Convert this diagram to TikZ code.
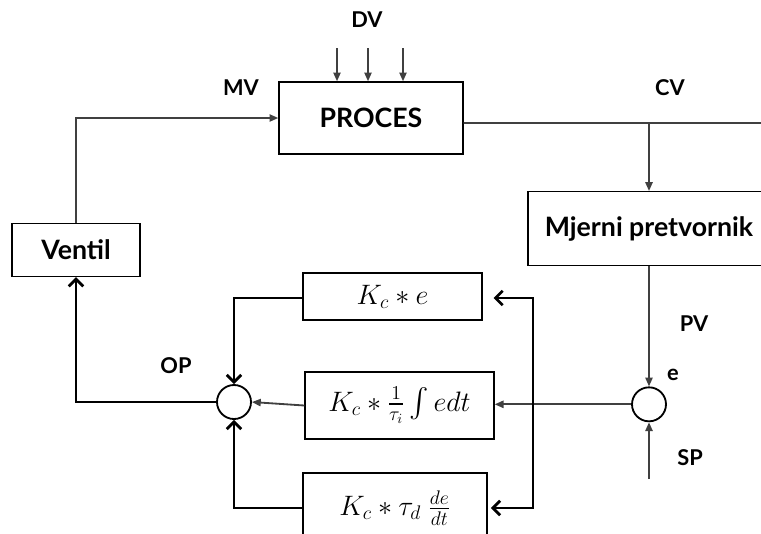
\documentclass[tikz,border=0pt]{standalone}
\usepackage{fix-cm}
\usepackage{exscale}
\usepackage[no-math]{fontspec}
\setmainfont{Lato}
\usetikzlibrary{positioning,arrows.meta,calc}

\begin{document}
\begin{tikzpicture}[
    block/.style={draw, line width=1pt, rectangle, align=center, inner sep=0pt, font=\fontsize{19}{22}\selectfont\bfseries},
    term/.style={draw, line width=1pt, rectangle, align=center, inner sep=0pt, font=\fontsize{20}{23}\selectfont},
    summer/.style={draw, circle, line width=1.3pt, minimum size=0.85cm, inner sep=0pt, fill=white},
    sig/.style={font=\fontsize{15.5}{18}\selectfont\bfseries},
    sigline/.style={draw=black!75, line width=1.3pt, -{Triangle[length=2.2mm,width=1.8mm]}},
    thickline/.style={line width=2pt, -{Straight Barb[length=1.8mm,width=3.6mm]}}
]
\useasboundingbox (0,0) rectangle (19.025,-13.325);

% process loop
\node[block, minimum width=4.6cm, minimum height=1.8cm] (proc) at (9.275,-2.95) {PROCES};
\node[block, minimum width=3.2cm, minimum height=1.325cm] (ventil) at (1.9,-6.25) {Ventil};
\coordinate (cvsplit) at (16.225,-3.075);
\coordinate (cvend) at (19.3,-3.075);
\node[block, below=1.7cm of cvsplit, minimum width=6.05cm, minimum height=1.85cm] (mjerni) {Mjerni pretvornik};
\node[summer, below=3cm of mjerni] (err) {};
\coordinate[below=1.425cm of err] (spin);

% controller terms
\node[summer] (out) at (5.85,-10.05) {};
\node[term, minimum width=4.475cm, minimum height=1.175cm] (pterm) at (9.8125,-7.4125) {$K_c * e$};
\node[term, minimum width=4.725cm, minimum height=1.675cm] (iterm) at (9.9875,-10.1375) {$K_c * \frac{1}{\tau_i}\,{\textstyle\int}\, e dt$};
\node[term, minimum width=4.6cm, minimum height=1.75cm] (dterm) at (9.875,-12.7) {$K_c * \tau_d\ \frac{de}{dt}$};
\coordinate (split) at (13.325,-10.05);

% signal names
\node[sig] (dv) at (9.175,-0.5) {DV};
\node[sig] (mv) at (6.025,-2.2) {MV};
\node[sig] (cv) at (16.75,-2.2) {CV};
\node[sig] (pv) at (17.35,-8.1) {PV};
\node[sig] (e) at (16.825,-9.375) {e};
\node[sig] (sp) at (17.25,-11.45) {SP};
\node[sig] (op) at (4.4,-9.15) {OP};

\foreach \x in {8.425,9.2,10.075}
    \draw[sigline] (\x,-1.2) -- (\x,0 |- proc.north);
\draw[sigline] (ventil.north) |- (proc.west);
\draw[draw=black!75, line width=1.3pt] ([yshift=-0.125cm]proc.east) -- (cvend);
\draw[sigline] (cvsplit) -- (mjerni);
\draw[sigline] (mjerni) -- (err);
\draw[sigline] (spin) -- (err);
\draw[sigline] (err.west) -- (err.west -| iterm.east);
\draw[thickline, shorten >=0.27cm] (split) |- (pterm.east |- 0,-7.45);
\draw[thickline, shorten >=0.08cm] (split) |- (dterm.east);
\draw[thickline] (pterm.west |- 0,-7.45) -| (out.north);
\draw[sigline] (iterm.west) -- (out.east);
\draw[thickline] (dterm.west) -| (out.south);
\draw[thickline] (out.west) -| (ventil.south);
\end{tikzpicture}
\end{document}
